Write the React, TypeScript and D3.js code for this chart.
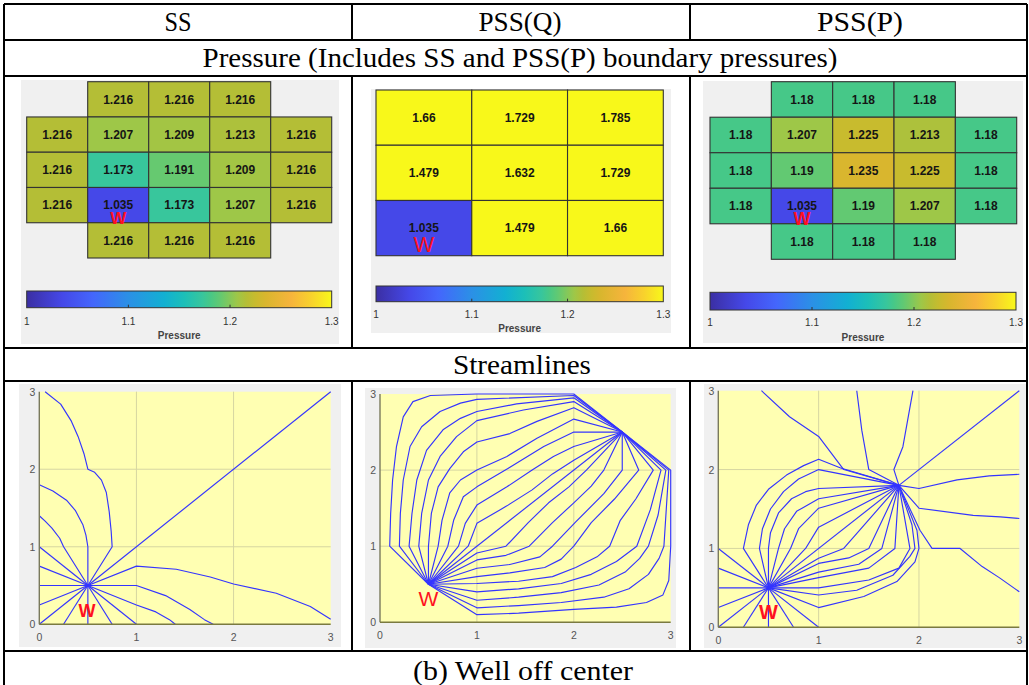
import React from 'react';
import * as d3 from 'd3';

const headers = ['SS', 'PSS(Q)', 'PSS(P)'];
const pressureTitle = 'Pressure (Includes SS and PSS(P) boundary pressures)';
const streamTitle = 'Streamlines';
const caption = '(b) Well off center';

// pressure grids, top row first (null = no cell)
const ssPressure = [
  [null, 1.216, 1.216, 1.216, null],
  [1.216, 1.207, 1.209, 1.213, 1.216],
  [1.216, 1.173, 1.191, 1.209, 1.216],
  [1.216, 1.035, 1.173, 1.207, 1.216],
  [null, 1.216, 1.216, 1.216, null],
];
const pssqPressure = [
  [1.66, 1.729, 1.785],
  [1.479, 1.632, 1.729],
  [1.035, 1.479, 1.66],
];
const psspPressure = [
  [null, 1.18, 1.18, 1.18, null],
  [1.18, 1.207, 1.225, 1.213, 1.18],
  [1.18, 1.19, 1.235, 1.225, 1.18],
  [1.18, 1.035, 1.19, 1.207, 1.18],
  [null, 1.18, 1.18, 1.18, null],
];
const wellCells = [[3, 1], [2, 0], [3, 1]];
const colorbarTicks = [1, 1.1, 1.2, 1.3];
const axisTicks = [0, 1, 2, 3];

// streamlines in domain units (0..3)
const ssLines = [
  [[0.5, 0.5], [0.5, 1], [0.48, 1.15], [0.45, 1.28], [0.37, 1.47], [0.28, 1.6], [0.14, 1.72], [0, 1.8]],
  [[0.5, 0.5], [0.25, 1], [0.21, 1.11], [0.13, 1.24], [0.06, 1.33], [0, 1.4]],
  [[0.5, 0.5], [0.75, 1], [0.74, 1.2], [0.72, 1.45], [0.69, 1.7], [0.64, 1.86], [0.57, 1.96], [0.5, 2], [0.46, 2.2], [0.4, 2.42], [0.33, 2.62], [0.22, 2.84], [0.06, 3]],
  [[0.5, 0.5], [0, 1]],
  [[0.5, 0.5], [0, 0.75]],
  [[0.5, 0.5], [0, 0.5]],
  [[0.5, 0.5], [0, 0.25]],
  [[0.5, 0.5], [0, 0]],
  [[0.5, 0.5], [0.25, 0]],
  [[0.5, 0.5], [0.5, 0]],
  [[0.5, 0.5], [0.75, 0]],
  [[0.5, 0.5], [1, 0]],
  [[0.5, 0.5], [1, 0.25], [1.2, 0.16], [1.34, 0.06], [1.4, 0]],
  [[0.5, 0.5], [1, 0.5], [1.3, 0.37], [1.55, 0.19], [1.7, 0.06], [1.79, 0]],
  [[0.5, 0.5], [1, 0.75], [1.41, 0.71], [1.76, 0.61], [2, 0.52], [2.44, 0.4], [2.79, 0.23], [3, 0.065]],
  [[0.5, 0.5], [3, 3]],
];

const pssqLines = [
  [[0.5, 0.5], [0.1, 1], [0.11, 1.43], [0.13, 1.87], [0.17, 2.31], [0.24, 2.7], [0.34, 2.9], [0.52, 2.98], [1, 3], [2, 3], [2.5, 2.5]],
  [[0.5, 0.5], [0.2, 1], [0.21, 1.43], [0.24, 1.87], [0.31, 2.31], [0.43, 2.57], [0.62, 2.77], [0.83, 2.88], [1, 2.93], [2, 2.98], [2.5, 2.5]],
  [[0.5, 0.5], [0.3, 1], [0.33, 1.43], [0.38, 1.87], [0.48, 2.26], [0.65, 2.53], [0.83, 2.68], [1, 2.77], [1.41, 2.87], [2, 2.95], [2.5, 2.5]],
  [[0.5, 0.5], [0.4, 1], [0.43, 1.43], [0.5, 1.87], [0.62, 2.18], [0.79, 2.44], [1, 2.65], [1.48, 2.79], [2, 2.9], [2.5, 2.5]],
  [[0.5, 0.5], [0.5, 1], [0.53, 1.43], [0.6, 1.78], [0.72, 2.02], [0.86, 2.24], [1, 2.37], [1.34, 2.48], [1.62, 2.64], [2, 2.82], [2.5, 2.5]],
  [[0.5, 0.5], [0.6, 1], [0.64, 1.34], [0.72, 1.7], [0.83, 1.87], [1, 2], [1.31, 2.18], [1.62, 2.42], [2, 2.67], [2.5, 2.5]],
  [[0.5, 0.5], [0.7, 1], [0.76, 1.34], [0.86, 1.65], [1, 1.78], [1.32, 2.02], [1.69, 2.31], [2, 2.5], [2.5, 2.5]],
  [[0.5, 0.5], [0.81, 1], [0.88, 1.3], [1, 1.54], [1.31, 1.78], [1.57, 2], [1.79, 2.18], [2, 2.31], [2.5, 2.5]],
  [[0.5, 0.5], [0.91, 1], [1, 1.3], [1.31, 1.53], [1.57, 1.74], [1.78, 1.95], [2, 2.13], [2.5, 2.5]],
  [[0.5, 0.5], [2.5, 2.5]],
  [[0.5, 0.5], [1, 0.91], [1.3, 1], [1.53, 1.31], [1.74, 1.57], [1.95, 1.78], [2.13, 2], [2.5, 2.5]],
  [[0.5, 0.5], [1, 0.82], [1.3, 0.88], [1.54, 1], [1.78, 1.31], [2, 1.57], [2.18, 1.79], [2.31, 2], [2.5, 2.5]],
  [[0.5, 0.5], [1, 0.71], [1.34, 0.76], [1.65, 0.86], [1.78, 1], [2.02, 1.32], [2.31, 1.69], [2.5, 2], [2.5, 2.5]],
  [[0.5, 0.5], [1, 0.6], [1.34, 0.65], [1.7, 0.72], [1.87, 0.83], [2, 1], [2.18, 1.31], [2.42, 1.62], [2.67, 2], [2.5, 2.5]],
  [[0.5, 0.5], [1, 0.51], [1.43, 0.54], [1.78, 0.6], [2.02, 0.72], [2.24, 0.86], [2.37, 1], [2.48, 1.34], [2.64, 1.62], [2.82, 2], [2.5, 2.5]],
  [[0.5, 0.5], [1, 0.4], [1.43, 0.44], [1.87, 0.51], [2.18, 0.63], [2.44, 0.8], [2.65, 1], [2.79, 1.48], [2.9, 2], [2.5, 2.5]],
  [[0.5, 0.5], [1, 0.29], [1.43, 0.33], [1.87, 0.39], [2.26, 0.49], [2.53, 0.66], [2.68, 0.84], [2.77, 1], [2.87, 1.41], [2.95, 2], [2.5, 2.5]],
  [[0.5, 0.5], [1, 0.19], [1.43, 0.22], [1.87, 0.26], [2.31, 0.33], [2.57, 0.44], [2.77, 0.63], [2.88, 0.84], [2.93, 1], [2.98, 2], [2.5, 2.5]],
  [[0.5, 0.5], [1, 0.1], [1.43, 0.12], [2, 0.17], [2.44, 0.2], [2.75, 0.26], [2.92, 0.36], [2.98, 0.55], [3, 1], [3, 2], [2.5, 2.5]],
];

const psspLines = [
  [[0.5, 0.5], [0, 1]],
  [[0.5, 0.5], [0, 0.75]],
  [[0.5, 0.5], [0, 0.5]],
  [[0.5, 0.5], [0, 0.25]],
  [[0.5, 0.5], [0, 0]],
  [[0.5, 0.5], [0.25, 0]],
  [[0.5, 0.5], [0.5, 0]],
  [[0.5, 0.5], [0.75, 0]],
  [[0.5, 0.5], [1, 0]],
  [[0.5, 0.5], [0.25, 1], [0.3, 1.3], [0.38, 1.55], [0.5, 1.75], [0.68, 1.93], [0.85, 2.05], [1, 2.13], [1.22, 2.02], [1.8, 1.8]],
  [[0.5, 0.5], [0.41, 1], [0.44, 1.25], [0.52, 1.5], [0.65, 1.72], [0.8, 1.88], [1, 2], [1.8, 1.8]],
  [[0.5, 0.5], [0.5, 1], [0.52, 1.2], [0.6, 1.45], [0.73, 1.63], [0.87, 1.72], [1, 1.76], [1.8, 1.8]],
  [[0.5, 0.5], [0.6, 1], [0.66, 1.25], [0.78, 1.47], [1, 1.63], [1.8, 1.8]],
  [[0.5, 0.5], [0.72, 1], [0.8, 1.25], [1, 1.51], [1.8, 1.8]],
  [[0.5, 0.5], [0.87, 1], [1, 1.27], [1.8, 1.8]],
  [[0.5, 0.5], [1.8, 1.8]],
  [[0.5, 0.5], [1, 0.875], [1.25, 1], [1.8, 1.8]],
  [[0.5, 0.5], [1, 0.81], [1.3, 0.88], [1.5, 1], [1.8, 1.8]],
  [[0.5, 0.5], [1, 0.7], [1.4, 0.8], [1.63, 1], [1.8, 1.8]],
  [[0.5, 0.5], [1, 0.63], [1.5, 0.75], [1.76, 1], [1.8, 1.8]],
  [[0.5, 0.5], [1, 0.5], [1.5, 0.6], [1.8, 0.75], [1.91, 1], [1.8, 1.8]],
  [[0.5, 0.5], [1, 0.41], [1.38, 0.47], [1.74, 0.66], [1.91, 0.9], [1.96, 1], [1.93, 1.3], [1.8, 1.8]],
  [[0.5, 0.5], [1, 0.25], [1.45, 0.39], [1.78, 0.58], [1.96, 0.83], [2, 1], [1.98, 1.23], [1.8, 1.8]],
  [[1.8, 1.8], [3, 3]],
  [[1.8, 1.8], [2, 1.76], [2.38, 1.87], [2.7, 1.92], [3, 1.94]],
  [[1.8, 1.8], [2, 1.51], [2.54, 1.42], [2.81, 1.4], [3, 1.38]],
  [[1.8, 1.8], [2.01, 1.23], [2.13, 1], [2.41, 1], [2.63, 0.77], [2.8, 0.63], [3, 0.45]],
  [[1.8, 1.8], [1.75, 2], [1.84, 2.29], [1.94, 3]],
  [[1.8, 1.8], [1.5, 2], [1.43, 2.5], [1.38, 3]],
  [[1.8, 1.8], [1.25, 2], [1, 2.42], [0.71, 2.67], [0.43, 3]],
];
const wellLabels = [[0.49, 0.18], [0.5, 0.32], [0.5, 0.2]];

// parula-like colormap
const cmapStops = [1.0, 1.035, 1.065, 1.1, 1.135, 1.155, 1.173, 1.18, 1.19, 1.207, 1.216, 1.225, 1.235, 1.26, 1.28, 1.3];
const cmapColors = ['#3b2fa3', '#4548e8', '#4466fc', '#2b90e6', '#12b0d2', '#1cbfb8', '#38c69c', '#46c888', '#62c972', '#9ec748', '#b4be36', '#c8bb2e', '#d9b62e', '#f6b43c', '#f8d22c', '#f8f81a'];
const color = d3.scaleLinear<string>().domain(cmapStops).range(cmapColors).clamp(true);

const sans = 'Liberation Sans, Arial, sans-serif';
const serif = 'Liberation Serif, Times New Roman, serif';

const pressureLayout = [
  { bg: [21, 80, 339, 344], grid: [26.7, 81.7, 331.7, 258], cbar: [26.7, 291, 331.7, 307.7], tickY: 324.5, labelY: 338.5, w: { dy: 12.5, size: 17, weight: 'bold' } },
  { bg: [371, 89, 671, 333], grid: [376, 90, 663.3, 255.7], cbar: [376, 286, 663.3, 301.7], tickY: 317.5, labelY: 331.5, w: { dy: 16, size: 22, weight: 'normal' } },
  { bg: [703, 81, 1023, 343], grid: [710, 81.7, 1016.7, 259.3], cbar: [710, 292.3, 1016, 310], tickY: 325.5, labelY: 340.5, w: { dy: 12, size: 18, weight: 'bold' } },
];

const streamLayout = [
  { bg: [19, 384, 341, 647], ax: [39.3, 391.7, 330.7, 624.3], w: { size: 18, weight: 'bold' } },
  { bg: [365, 388, 676, 648], ax: [380, 394, 670.7, 622.3], w: { size: 21, weight: 'normal' } },
  { bg: [704, 384, 1026, 648], ax: [718.3, 390.7, 1019.3, 627.3], w: { size: 20, weight: 'bold' } },
];

// table text: [text, centre x, baseline y, width in the picture]
const tableTexts = [
  [headers[0], 178, 31, 27],
  [headers[1], 520, 31, 83],
  [headers[2], 860, 31, 86],
  [pressureTitle, 520, 67, 635],
  [streamTitle, 522, 374, 138],
  [caption, 523, 680, 220],
];

const PressurePanel = ({ values, well, lay, id }) => {
  const nr = values.length, nc = values[0].length;
  const x = d3.scaleLinear().domain([0, nc]).range([lay.grid[0], lay.grid[2]]);
  const y = d3.scaleLinear().domain([0, nr]).range([lay.grid[1], lay.grid[3]]);
  const cb = d3.scaleLinear().domain([1, 1.3]).range([lay.cbar[0], lay.cbar[2]]);
  const gid = 'cbgrad' + id;
  const [wr, wc] = well;
  return (
    <g>
      <defs>
        <linearGradient id={gid} x1="0" x2="1" y1="0" y2="0">
          {cmapStops.map((s) => (
            <stop key={s} offset={(s - 1) / 0.3} stopColor={color(s)} />
          ))}
        </linearGradient>
      </defs>
      <rect x={lay.bg[0]} y={lay.bg[1]} width={lay.bg[2] - lay.bg[0]} height={lay.bg[3] - lay.bg[1]} fill="#f0f0f0" />
      {values.map((row, i) =>
        row.map((v, j) =>
          v == null ? null : (
            <g key={i + '-' + j}>
              <rect x={x(j)} y={y(i)} width={x(j + 1) - x(j)} height={y(i + 1) - y(i)} fill={color(v)} stroke="#333" strokeWidth={1.1} />
              <text x={(x(j) + x(j + 1)) / 2} y={(y(i) + y(i + 1)) / 2 + 4.3} textAnchor="middle" fontFamily={sans} fontWeight="bold" fontSize={12} fill="#151515">
                {String(v)}
              </text>
            </g>
          )
        )
      )}
      <text x={(x(wc) + x(wc + 1)) / 2} y={(y(wr) + y(wr + 1)) / 2 + lay.w.dy + lay.w.size * 0.36} textAnchor="middle" fontFamily={sans} fontWeight={lay.w.weight} fontSize={lay.w.size} fill="#ff1020">
        W
      </text>
      <rect x={lay.cbar[0]} y={lay.cbar[1]} width={lay.cbar[2] - lay.cbar[0]} height={lay.cbar[3] - lay.cbar[1]} fill={`url(#${gid})`} stroke="#333" strokeWidth={1} />
      {colorbarTicks.map((t) => (
        <g key={t}>
          {t > 1 && t < 1.3 ? <line x1={cb(t)} x2={cb(t)} y1={lay.cbar[3]} y2={lay.cbar[3] - 3} stroke="#333" /> : null}
          <text x={cb(t)} y={lay.tickY} textAnchor="middle" fontFamily={sans} fontSize={10} fill="#333">
            {String(t)}
          </text>
        </g>
      ))}
      <text x={(lay.cbar[0] + lay.cbar[2]) / 2} y={lay.labelY} textAnchor="middle" fontFamily={sans} fontWeight="bold" fontSize={10} fill="#444">
        Pressure
      </text>
    </g>
  );
};

const StreamPanel = ({ lines, lay, wellLabel }) => {
  const x = d3.scaleLinear().domain([0, 3]).range([lay.ax[0], lay.ax[2]]);
  const y = d3.scaleLinear().domain([0, 3]).range([lay.ax[3], lay.ax[1]]);
  const line = d3.line<number[]>().x((d) => x(d[0])).y((d) => y(d[1]));
  return (
    <g>
      <rect x={lay.bg[0]} y={lay.bg[1]} width={lay.bg[2] - lay.bg[0]} height={lay.bg[3] - lay.bg[1]} fill="#f0f0f0" />
      <rect x={x(0)} y={y(3)} width={x(3) - x(0)} height={y(0) - y(3)} fill="#ffffb2" />
      {axisTicks.slice(1, 3).map((t) => (
        <g key={t}>
          <line x1={x(t)} x2={x(t)} y1={y(0)} y2={y(3)} stroke="#d6d6a2" strokeWidth={1} />
          <line x1={x(0)} x2={x(3)} y1={y(t)} y2={y(t)} stroke="#d6d6a2" strokeWidth={1} />
        </g>
      ))}
      {lines.map((l, i) => (
        <path key={i} d={line(l)} fill="none" stroke="#3434ff" strokeWidth={1.15} strokeLinejoin="round" />
      ))}
      <line x1={x(0)} x2={x(0)} y1={y(0)} y2={y(3)} stroke="#7a7a5c" strokeWidth={1.4} />
      <line x1={x(0)} x2={x(3)} y1={y(0)} y2={y(0)} stroke="#7a7a40" strokeWidth={1.4} />
      {axisTicks.map((t) => (
        <g key={t}>
          <text x={x(t)} y={y(0) + 17} textAnchor="middle" fontFamily={sans} fontSize={10.5} fill="#555">
            {t}
          </text>
          <text x={x(0) - 4} y={y(t) + 4} textAnchor="end" fontFamily={sans} fontSize={10.5} fill="#555">
            {t}
          </text>
        </g>
      ))}
      <text x={x(wellLabel[0])} y={y(wellLabel[1]) + lay.w.size * 0.36} textAnchor="middle" fontFamily={sans} fontWeight={lay.w.weight} fontSize={lay.w.size} fill="#ff1020">
        W
      </text>
    </g>
  );
};

export default function App() {
  const colX = [4, 352, 690, 1027];
  const rowY = [4, 40, 76, 348, 381, 651, 700];
  const pressures = [ssPressure, pssqPressure, psspPressure];
  const streams = [ssLines, pssqLines, psspLines];
  return (
    <svg width={1029} height={685} style={{ position: 'absolute', left: 0, top: 0, background: '#fff' }}>
      {pressures.map((p, i) => (
        <PressurePanel key={i} id={i} values={p} well={wellCells[i]} lay={pressureLayout[i]} />
      ))}
      {streams.map((s, i) => (
        <StreamPanel key={i} lines={s} lay={streamLayout[i]} wellLabel={wellLabels[i]} />
      ))}
      {/* table rules */}
      {rowY.map((yy) => (
        <line key={yy} x1={colX[0]} x2={colX[3]} y1={yy} y2={yy} stroke="#000" strokeWidth={2} />
      ))}
      <line x1={colX[0]} x2={colX[0]} y1={rowY[0]} y2={rowY[6]} stroke="#000" strokeWidth={2} />
      <line x1={colX[3]} x2={colX[3]} y1={rowY[0]} y2={rowY[6]} stroke="#000" strokeWidth={2} />
      {[1, 2].map((c) =>
        [[0, 1], [2, 3], [4, 5]].map(([a, b]) => (
          <line key={c + '-' + a} x1={colX[c]} x2={colX[c]} y1={rowY[a]} y2={rowY[b]} stroke="#000" strokeWidth={2} />
        ))
      )}
      {tableTexts.map(([t, cx, by, w]) => (
        <text key={t} x={cx} y={by} textAnchor="middle" fontFamily={serif} fontSize={27} fill="#000" textLength={w} lengthAdjust="spacingAndGlyphs">
          {t}
        </text>
      ))}
    </svg>
  );
}
